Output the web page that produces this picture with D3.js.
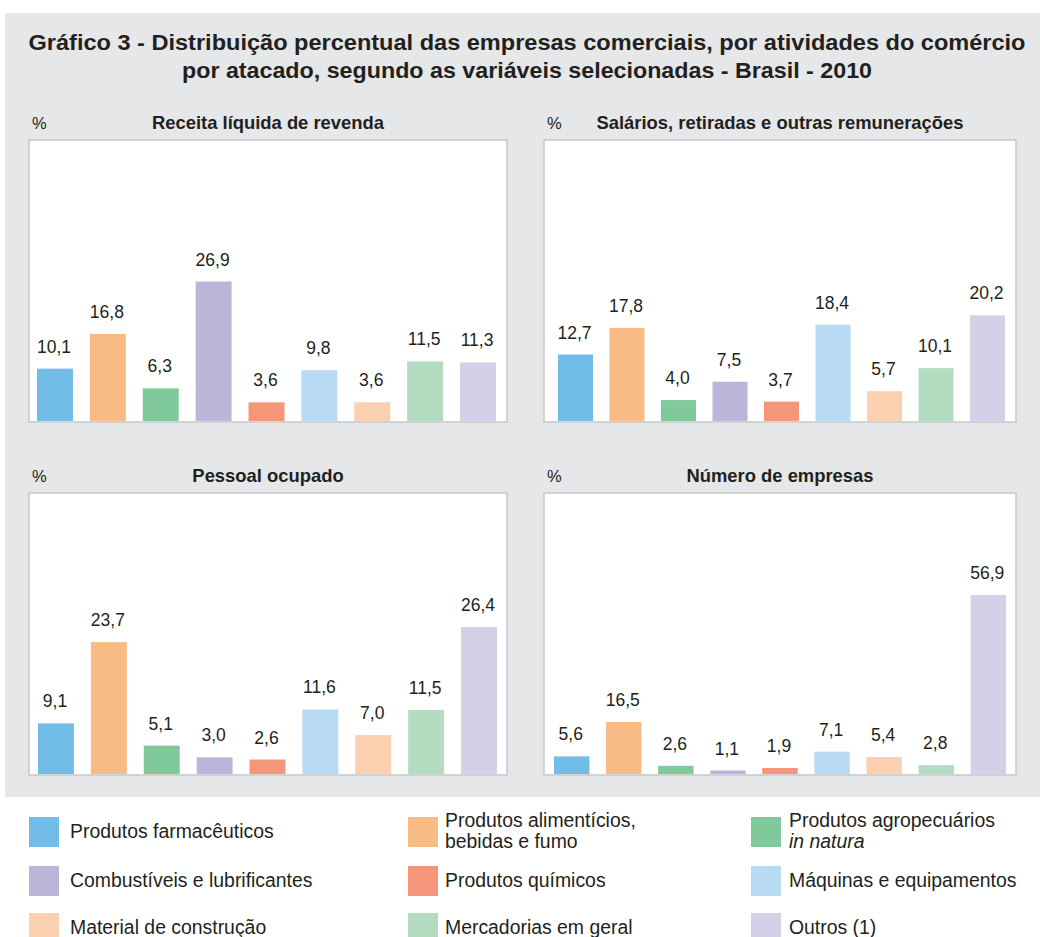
<!DOCTYPE html>
<html><head><meta charset="utf-8">
<script src="https://cdn.jsdelivr.net/npm/d3@7"></script>
<style>
html,body{margin:0;padding:0;background:#fff;}
svg{display:block;}
text{font-family:"Liberation Sans",Arial,Helvetica,sans-serif;fill:#231f20;}
</style></head><body>
<svg id="chart" width="1040" height="937"></svg>
<script>
const categories = ["Produtos farmacêuticos","Produtos alimentícios, bebidas e fumo","Produtos agropecuários in natura","Combustíveis e lubrificantes","Produtos químicos","Máquinas e equipamentos","Material de construção","Mercadorias em geral","Outros (1)"];
const colors = ["#72bde8","#f9bb85","#80c99b","#b9b6d9","#f5967a","#b8dbf3","#fbd0b0","#b3dcc1","#d3d1e7"];
const panelTitles = ["Receita líquida de revenda","Salários, retiradas e outras remunerações","Pessoal ocupado","Número de empresas"];
const receita = [10.1,16.8,6.3,26.9,3.6,9.8,3.6,11.5,11.3];
const salarios = [12.7,17.8,4.0,7.5,3.7,18.4,5.7,10.1,20.2];
const pessoal = [9.1,23.7,5.1,3.0,2.6,11.6,7.0,11.5,26.4];
const empresas = [5.6,16.5,2.6,1.1,1.9,7.1,5.4,2.8,56.9];
const seriesValues = [receita,salarios,pessoal,empresas];
const yMax = [54.2,53.7,50.5,89.3];
const titleLines = ["Gráfico 3 - Distribuição percentual das empresas comerciais, por atividades do comércio","por atacado, segundo as variáveis selecionadas - Brasil - 2010"];
const legendLines = [["Produtos farmacêuticos"],["Produtos alimentícios,","bebidas e fumo"],["Produtos agropecuários","in natura"],["Combustíveis e lubrificantes"],["Produtos químicos"],["Máquinas e equipamentos"],["Material de construção"],["Mercadorias em geral"],["Outros (1)"]];
const fmt = v => d3.format(".1f")(v).replace(".", ",");

const svg = d3.select("#chart");
svg.append("rect").attr("x",5).attr("y",13).attr("width",1035).attr("height",784).attr("fill","#e6e7e8");

const titleWidths = [997,690];
svg.selectAll("text.title").data(titleLines).join("text").attr("class","title")
  .attr("x",527).attr("y",(d,i)=>50+i*28).attr("text-anchor","middle")
  .attr("font-size",22).attr("font-weight","bold")
  .attr("textLength",(d,i)=>titleWidths[i]).attr("lengthAdjust","spacingAndGlyphs")
  .text(d=>d);

const boxes = [
  {x0:29,x1:507,y0:140,y1:422,b0:37,b1:496},
  {x0:544,x1:1016,y0:140,y1:422,b0:558,b1:1005},
  {x0:29,x1:507,y0:493,y1:775,b0:38,b1:497},
  {x0:544,x1:1016,y0:493,y1:775,b0:554,b1:1006}
];

boxes.forEach((b,p)=>{
  const g = svg.append("g");
  g.append("rect").attr("x",b.x0).attr("y",b.y0).attr("width",b.x1-b.x0).attr("height",b.y1-b.y0)
    .attr("fill","#fff").attr("stroke","#c6c7c9").attr("stroke-width",1.5);
  g.append("text").attr("x",b.x0+3).attr("y",b.y0-11).attr("font-size",16.5).text("%");
  g.append("text").attr("x",(b.x0+b.x1)/2).attr("y",b.y0-11).attr("text-anchor","middle")
    .attr("font-size",18.4).attr("font-weight","bold").text(panelTitles[p]);
  const x = d3.scaleBand().domain(categories).range([b.b0,b.b1]).paddingInner(0.32).paddingOuter(0);
  const y = d3.scaleLinear().domain([0,yMax[p]]).range([b.y1-1,b.y0]);
  const data = categories.map((c,i)=>({c,v:seriesValues[p][i],col:colors[i]}));
  g.selectAll("rect.bar").data(data).join("rect").attr("class","bar")
    .attr("x",d=>x(d.c)).attr("width",x.bandwidth())
    .attr("y",d=>y(d.v)).attr("height",d=>y(0)-y(d.v)).attr("fill",d=>d.col);
  g.selectAll("text.val").data(data).join("text").attr("class","val")
    .attr("x",d=>x(d.c)+x.bandwidth()/2-1).attr("y",d=>y(d.v)-16)
    .attr("text-anchor","middle").attr("font-size",17.5).text(d=>fmt(d.v));
});

// legend
const colX = [29,408,751];
const textOff = [41,37,38];
const rowY = [817,866,913];
const lg = svg.append("g");
categories.forEach((c,i)=>{
  const col = i%3, cx = colX[col], ry = rowY[Math.floor(i/3)];
  lg.append("rect").attr("x",cx).attr("y",ry).attr("width",30).attr("height",30).attr("fill",colors[i]);
  const lines = legendLines[i];
  if(lines.length===1){
    lg.append("text").attr("font-size",19.4).attr("x",cx+textOff[col]).attr("y",ry+21).text(lines[0]);
  } else {
    lines.forEach((l,j)=>{
      lg.append("text").attr("font-size",19.4).attr("x",cx+textOff[col]).attr("y",ry+10+j*21)
        .attr("font-style", (i===2&&j===1)?"italic":"normal").text(l);
    });
  }
});
</script>
</body></html>
